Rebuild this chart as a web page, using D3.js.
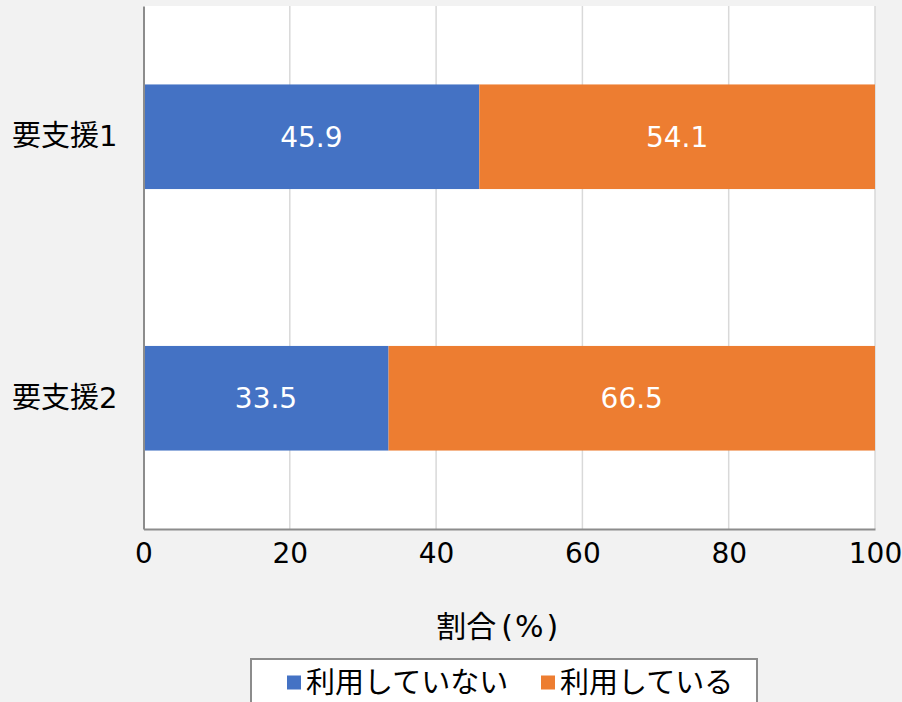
<!DOCTYPE html>
<html>
<head>
<meta charset="utf-8">
<script src="https://cdn.jsdelivr.net/npm/d3@7"></script>
<style>
  html, body { margin: 0; padding: 0; background: #f2f2f2; }
  svg { display: block; }
  text { font-family: "DejaVu Sans", "Noto Sans CJK JP", sans-serif; }
</style>
</head>
<body>
<svg id="chart" width="902" height="702"></svg>
<script>
const categories = ["要支援1", "要支援2"];
const seriesNames = ["利用していない", "利用している"];
const notUsing = [45.9, 33.5];
const using = [54.1, 66.5];
const xTicks = [0, 20, 40, 60, 80, 100];
const axisTitleParts = ["割合", "(", "%", ")"];
const colors = ["#4472c4", "#ed7d31"];

const svg = d3.select("#chart");
const W = 902, H = 702;
svg.append("rect").attr("width", W).attr("height", H).attr("fill", "#f2f2f2");

const plot = { left: 143.5, right: 875, top: 6, bottom: 529 };

const x = d3.scaleLinear().domain([0, 100]).range([plot.left, plot.right]);
const y = d3.scaleBand().domain(categories).range([plot.top, plot.bottom])
  .paddingInner(0.6).paddingOuter(0.3);

// plot area
svg.append("rect")
  .attr("x", plot.left).attr("y", plot.top)
  .attr("width", plot.right - plot.left).attr("height", plot.bottom - plot.top)
  .attr("fill", "#ffffff");

// gridlines
svg.append("g").selectAll("line").data(xTicks.filter(d => d > 0)).join("line")
  .attr("x1", d => x(d)).attr("x2", d => x(d))
  .attr("y1", plot.top).attr("y2", plot.bottom)
  .attr("stroke", "#d9d9d9").attr("stroke-width", 1.5);

// stacked data
const rows = categories.map((c, i) => ({ cat: c, vals: [notUsing[i], using[i]] }));
const stackData = [];
rows.forEach(r => {
  let acc = 0;
  r.vals.forEach((v, j) => {
    stackData.push({ cat: r.cat, s: j, x0: acc, x1: acc + v, v });
    acc += v;
  });
});

svg.append("g").selectAll("rect").data(stackData).join("rect")
  .attr("x", d => x(d.x0))
  .attr("width", d => x(d.x1) - x(d.x0))
  .attr("y", d => y(d.cat))
  .attr("height", y.bandwidth())
  .attr("fill", d => colors[d.s]);

svg.append("g").selectAll("text").data(stackData).join("text")
  .attr("x", d => (x(d.x0) + x(d.x1)) / 2)
  .attr("y", d => y(d.cat) + y.bandwidth() / 2)
  .attr("dy", "0.36em")
  .attr("text-anchor", "middle")
  .attr("fill", "#ffffff")
  .attr("font-size", 28)
  .text(d => d.v.toFixed(1));

// axes
const xAxis = svg.append("g").attr("transform", `translate(0,${plot.bottom})`)
  .call(d3.axisBottom(x).tickValues(xTicks).tickSize(0).tickPadding(14).tickFormat(d3.format("d")));
xAxis.select(".domain").attr("stroke", "#8c8c8c").attr("stroke-width", 2);
xAxis.selectAll("text").attr("font-size", 28).attr("fill", "#000").attr("dy", "0.71em")
  .attr("font-family", "\"DejaVu Sans\", \"Noto Sans CJK JP\", sans-serif");

const yAxis = svg.append("g").attr("transform", `translate(${plot.left},0)`)
  .call(d3.axisLeft(y).tickSize(0).tickPadding(26));
yAxis.select(".domain").attr("stroke", "#8c8c8c").attr("stroke-width", 2);
yAxis.selectAll("text").attr("font-size", 29).attr("fill", "#000")
  .attr("font-family", "\"DejaVu Sans\", \"Noto Sans CJK JP\", sans-serif");

// axis title
const title = svg.append("text")
  .attr("x", (plot.left + plot.right) / 2 - 12)
  .attr("y", 626).attr("dy", "0.36em")
  .attr("text-anchor", "middle")
  .attr("font-size", 30).attr("fill", "#000");
const titleDx = [0, 5, 2, 3];
axisTitleParts.forEach((p, i) => {
  title.append("tspan").attr("dx", titleDx[i]).text(p);
});

// legend
const lg = svg.append("g");
lg.append("rect").attr("x", 251).attr("y", 659).attr("width", 506).attr("height", 60)
  .attr("fill", "#ffffff").attr("stroke", "#8c8c8c").attr("stroke-width", 2);
const legendX = [287, 541];
seriesNames.forEach((n, i) => {
  lg.append("rect").attr("x", legendX[i]).attr("y", 675.5).attr("width", 14).attr("height", 14)
    .attr("fill", colors[i]);
  lg.append("text").attr("x", legendX[i] + 19).attr("y", 683).attr("dy", "0.36em")
    .attr("font-size", 29).attr("fill", "#000").text(n);
});
</script>
</body>
</html>
